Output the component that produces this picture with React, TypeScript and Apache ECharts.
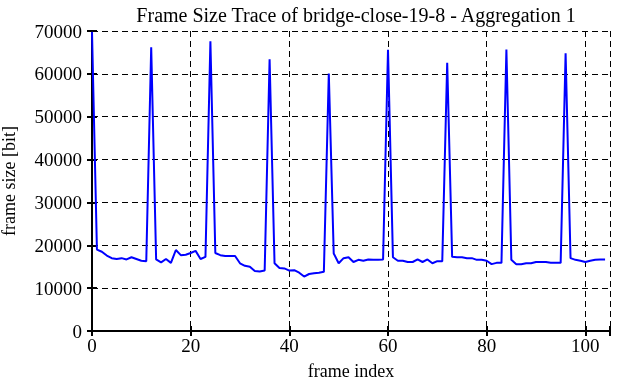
import React, { useEffect, useRef } from "react";
import * as echarts from "echarts";

const titleText = "Frame Size Trace of bridge-close-19-8 - Aggregation 1";
const xAxisName = "frame index";
const yAxisName = "frame size [bit]";

const frameSizes: number[] = [
  69800, 19000, 18500, 17600, 17000, 16800, 17000, 16700, 17200, 16800,
  16400, 16300, 66200, 16700, 16000, 16800, 15900, 18900, 17700, 17800,
  18200, 18700, 16800, 17300, 67600, 18200, 17700, 17500, 17500, 17500,
  15800, 15200, 15000, 14000, 13900, 14100, 63400, 15800, 14700, 14600,
  14100, 14200, 13600, 12700, 13300, 13500, 13600, 13800, 60100, 18100,
  15800, 17000, 17200, 16100, 16600, 16400, 16700, 16600, 16600, 16700,
  65600, 17200, 16400, 16400, 16100, 16100, 16700, 16100, 16700, 15800,
  16300, 16300, 62600, 17300, 17200, 17200, 17000, 17000, 16600, 16600,
  16400, 15600, 15900, 15900, 65700, 16600, 15600, 15600, 15800, 15800,
  16100, 16100, 16100, 15900, 15900, 15900, 64800, 17000, 16600, 16400,
  16100, 16400, 16600, 16700, 16700,
];

const FONT = "Liberation Serif";

export default function App() {
  const ref = useRef<HTMLDivElement>(null);
  useEffect(() => {
    if (!ref.current) return;
    const chart = echarts.init(ref.current, null, { renderer: "svg" });
    const data = frameSizes.map((v, i) => [i, v]);
    const labelStyle = { color: "#000", fontFamily: FONT, fontSize: 19 };
    const nameStyle = { color: "#000", fontFamily: FONT, fontSize: 18, lineHeight: 18 };
    const splitLine = {
      show: true,
      lineStyle: { color: "#000", width: 1, type: [6, 4] as number[] },
    };
    const axisLine = { show: true, lineStyle: { color: "#000", width: 2 } };
    const axisTick = { show: true, inside: true, length: 5, lineStyle: { color: "#000", width: 2 } };
    chart.setOption({
      animation: false,
      title: {
        text: titleText,
        left: 351,
        textAlign: "center",
        top: 0,
        textStyle: { color: "#000", fontFamily: FONT, fontSize: 20, fontWeight: "normal" },
      },
      grid: { left: 92, right: 12, top: 31, bottom: 51, containLabel: false, outerBoundsMode: "none" },
      xAxis: [
        {
          type: "value",
          min: 0,
          max: 105,
          interval: 20,
          name: xAxisName,
          nameLocation: "middle",
          nameGap: 31,
          nameTextStyle: nameStyle,
          axisLine,
          axisTick,
          axisLabel: {
            ...labelStyle,
            margin: 5,
            formatter: (v: number) => (v % 20 === 0 ? String(v) : ""),
          },
          splitLine,
        },
        {
          type: "value",
          position: "top",
          min: 0,
          max: 105,
          interval: 20,
          axisLine,
          axisTick,
          axisLabel: { show: false },
          splitLine: { show: false },
        },
      ],
      yAxis: [
        {
          type: "value",
          min: 0,
          max: 70000,
          interval: 10000,
          name: yAxisName,
          nameLocation: "middle",
          nameGap: 74,
          nameTextStyle: nameStyle,
          axisLine,
          axisTick,
          axisLabel: { ...labelStyle, margin: 10, formatter: (v: number) => String(v) },
          splitLine,
        },
        {
          type: "value",
          position: "right",
          min: 0,
          max: 70000,
          interval: 10000,
          axisLine,
          axisTick,
          axisLabel: { show: false },
          splitLine: { show: false },
        },
      ],
      series: [
        {
          type: "line",
          data,
          showSymbol: false,
          lineStyle: { color: "#0000ff", width: 2 },
          itemStyle: { color: "#0000ff" },
        },
      ],
    });
    return () => chart.dispose();
  }, []);
  return <div ref={ref} style={{ width: 622, height: 382, position: "fixed", left: 0, top: 0 }} />;
}
